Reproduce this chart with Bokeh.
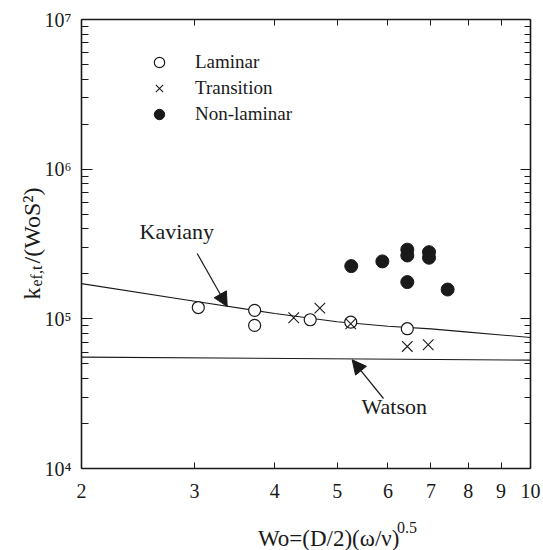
import math
from bokeh.plotting import figure
from bokeh.models import (FixedTicker, LogAxis, Label, Arrow, NormalHead, Legend,
                          LegendItem, Range1d)
from bokeh.embed import file_html
from bokeh.resources import INLINE

# ---------------- data ----------------
lam_x = [3.04, 3.72, 3.72, 4.54, 5.25, 6.43]
lam_y = [1.19e5, 1.14e5, 9.04e4, 9.86e4, 9.50e4, 8.59e4]

tra_x = [4.28, 4.70, 5.25, 6.43, 6.93]
tra_y = [1.017e5, 1.18e5, 9.27e4, 6.54e4, 6.71e4]

non_x = [5.26, 5.88, 6.43, 6.43, 6.95, 6.95, 6.43, 7.43]
non_y = [2.25e5, 2.42e5, 2.90e5, 2.65e5, 2.79e5, 2.56e5, 1.76e5, 1.57e5]

kav_x = [2, 3, 4, 5, 6, 7, 8, 9, 10]
kav_y = [1.72e5, 1.31e5, 1.085e5, 9.57e4, 8.93e4, 8.57e4, 8.15e4, 7.80e4, 7.51e4]

wat_x = [2, 10]
wat_y = [5.55e4, 5.30e4]

x_ticks = [2, 3, 4, 5, 6, 7, 8, 9, 10]
x_tick_labels = ["2", "3", "4", "5", "6", "7", "8", "9", "10"]
y_ticks = [1e4, 1e5, 1e6, 1e7]
y_tick_labels = ["10\u2074", "10\u2075", "10\u2076", "10\u2077"]
y_minor = [k * 10 ** d for d in (4, 5, 6) for k in range(2, 10)]

legend_labels = ["Laminar", "Transition", "Non-laminar"]

# ---------------- layout helpers ----------------
FL, FT, FW, FH = 81, 19, 449, 449
W, H = 543, 550
PAD = 339                      # hidden strip on the left that holds the title panels
FONT = "Liberation Serif"
INK = "#1a1a1a"


def px2x(px):
    return 2.0 * 5.0 ** ((px - FL) / FW)


def py2y(py):
    return 10.0 ** (7.0 - 3.0 * (py - FT) / FH)


CW = {'k': .5, 'e': .444, 'f': .333, ',': .25, 't': .278, '/': .278, '(': .333,
      'W': .944, 'o': .5, 'S': .556, '2': .5, ')': .333, '=': .564, 'D': .722,
      '\u03c9': .69, '\u03bd': .5, '0': .5, '.': .25, '5': .5, '\u2003': 1.0,
      '\u00b2': .3}


def tw(s, size):
    return sum(CW.get(c, .5) for c in s) * size


p = figure(x_axis_type="log", y_axis_type="log",
           x_range=Range1d(2, 10), y_range=Range1d(1e4, 1e7),
           frame_width=FW, frame_height=FH,
           min_border_left=FL + PAD, min_border_top=FT,
           min_border_right=W - FL - FW, min_border_bottom=H - FT - FH,
           output_backend="svg", toolbar_location=None,
           background_fill_color="white", border_fill_color="white")
p.margin = (0, 0, 0, -PAD)
p.grid.visible = False
p.outline_line_color = None

# ---------------- axes ----------------
xa = p.xaxis[0]
xa.ticker = FixedTicker(ticks=x_ticks, minor_ticks=[])
xa.major_label_overrides = dict(zip(x_ticks, x_tick_labels))
ya = p.yaxis[0]
ya.ticker = FixedTicker(ticks=y_ticks, minor_ticks=y_minor)
ya.major_label_overrides = dict(zip(y_ticks, y_tick_labels))

for ax in (xa, ya):
    ax.axis_line_color = INK
    ax.axis_line_width = 1.6
    ax.major_tick_line_color = INK
    ax.minor_tick_line_color = INK
    ax.major_tick_out = 0
    ax.minor_tick_out = 0
    ax.major_label_text_font = FONT
    ax.major_label_text_font_size = "20px"
    ax.major_label_text_color = INK
xa.major_tick_in = 6
xa.major_label_standoff = 15
ya.major_tick_in = 11
ya.minor_tick_in = 7
ya.major_label_standoff = 10

top = LogAxis(ticker=FixedTicker(ticks=x_ticks, minor_ticks=[]))
right = LogAxis(ticker=FixedTicker(ticks=y_ticks, minor_ticks=y_minor))
for ax in (top, right):
    ax.axis_line_color = INK
    ax.axis_line_width = 1.6
    ax.major_tick_line_color = INK
    ax.minor_tick_line_color = INK
    ax.major_tick_out = 0
    ax.minor_tick_out = 0
    ax.major_label_text_font_size = "2px"
    ax.major_label_text_alpha = 0
    ax.major_label_standoff = 0
top.major_tick_in = 6
right.major_tick_in = 10
right.minor_tick_in = 6
p.add_layout(top, "above")
p.add_layout(right, "right")

# ---------------- curves and markers ----------------
p.line(kav_x, kav_y, line_color=INK, line_width=1.1)
p.line(wat_x, wat_y, line_color=INK, line_width=1.1)

r_lam = p.scatter(lam_x, lam_y, marker="circle", size=12, fill_color="white",
                  line_color=INK, line_width=1.2)
r_tra = p.scatter(tra_x, tra_y, marker="x", size=15, line_color=INK, line_width=1.1)
r_non = p.scatter(non_x, non_y, marker="circle", size=13, fill_color=INK,
                  line_color=INK)

legend = Legend(items=[LegendItem(label=legend_labels[0], renderers=[r_lam]),
                       LegendItem(label=legend_labels[1], renderers=[r_tra]),
                       LegendItem(label=legend_labels[2], renderers=[r_non])],
                location=(65, 341), padding=0, margin=0, spacing=0,
                glyph_width=26, glyph_height=26, label_height=26,
                label_standoff=23, background_fill_alpha=0,
                border_line_alpha=0, label_text_font=FONT,
                label_text_font_size="19px", label_text_color=INK)
p.add_layout(legend)

# ---------------- annotations ----------------
p.add_layout(Label(x=px2x(139), y=py2y(243), text="Kaviany", text_font=FONT,
                   text_font_size="22px", text_color=INK))
p.add_layout(Arrow(end=NormalHead(size=14, fill_color=INK, line_color=INK),
                   x_start=px2x(196.7), y_start=py2y(253),
                   x_end=px2x(226.7), y_end=py2y(306),
                   line_color=INK, line_width=1.2))
p.add_layout(Label(x=px2x(361), y=py2y(418), text="Watson", text_font=FONT,
                   text_font_size="22px", text_color=INK))
p.add_layout(Arrow(end=NormalHead(size=14, fill_color=INK, line_color=INK),
                   x_start=px2x(383), y_start=py2y(398),
                   x_end=px2x(351.7), y_end=py2y(359.3),
                   line_color=INK, line_width=1.2))


# ---------------- axis titles (composed for sub/superscripts) ----------------
def title_piece(cx, cy, **kw):
    # canvas position given as seen in the window; shifted by the hidden strip
    lab = Label(x=cx + PAD, y=cy, x_units="canvas", y_units="canvas",
                text_font=FONT, text_color=INK, text_align="left",
                text_baseline="alphabetic", **kw)
    p.add_layout(lab, "left")


MAIN, SUB = 24, 16
y_main = "k\u2003/(WoS\u00b2)"
y0 = 299.0
title_piece(31, y0, text=y_main, angle=math.pi / 2, text_font_size=f"{MAIN}px")
title_piece(36, y0 - tw("k", MAIN) - 1, text="ef,t", angle=math.pi / 2,
            text_font_size=f"{SUB}px")

XM, XS = 23, 16
main_t = "Wo=(D/2)(\u03c9/\u03bd)"
sup_t = "0.5"
total = tw(main_t, XM) + tw(sup_t, XS)
x0 = 340 - total / 2
title_piece(x0, 538, text=main_t, text_font_size=f"{XM}px")
title_piece(x0 + tw(main_t, XM) - 6, 527, text=sup_t, text_font_size=f"{XS}px")

open("out.html", "w").write(file_html(p, INLINE))
